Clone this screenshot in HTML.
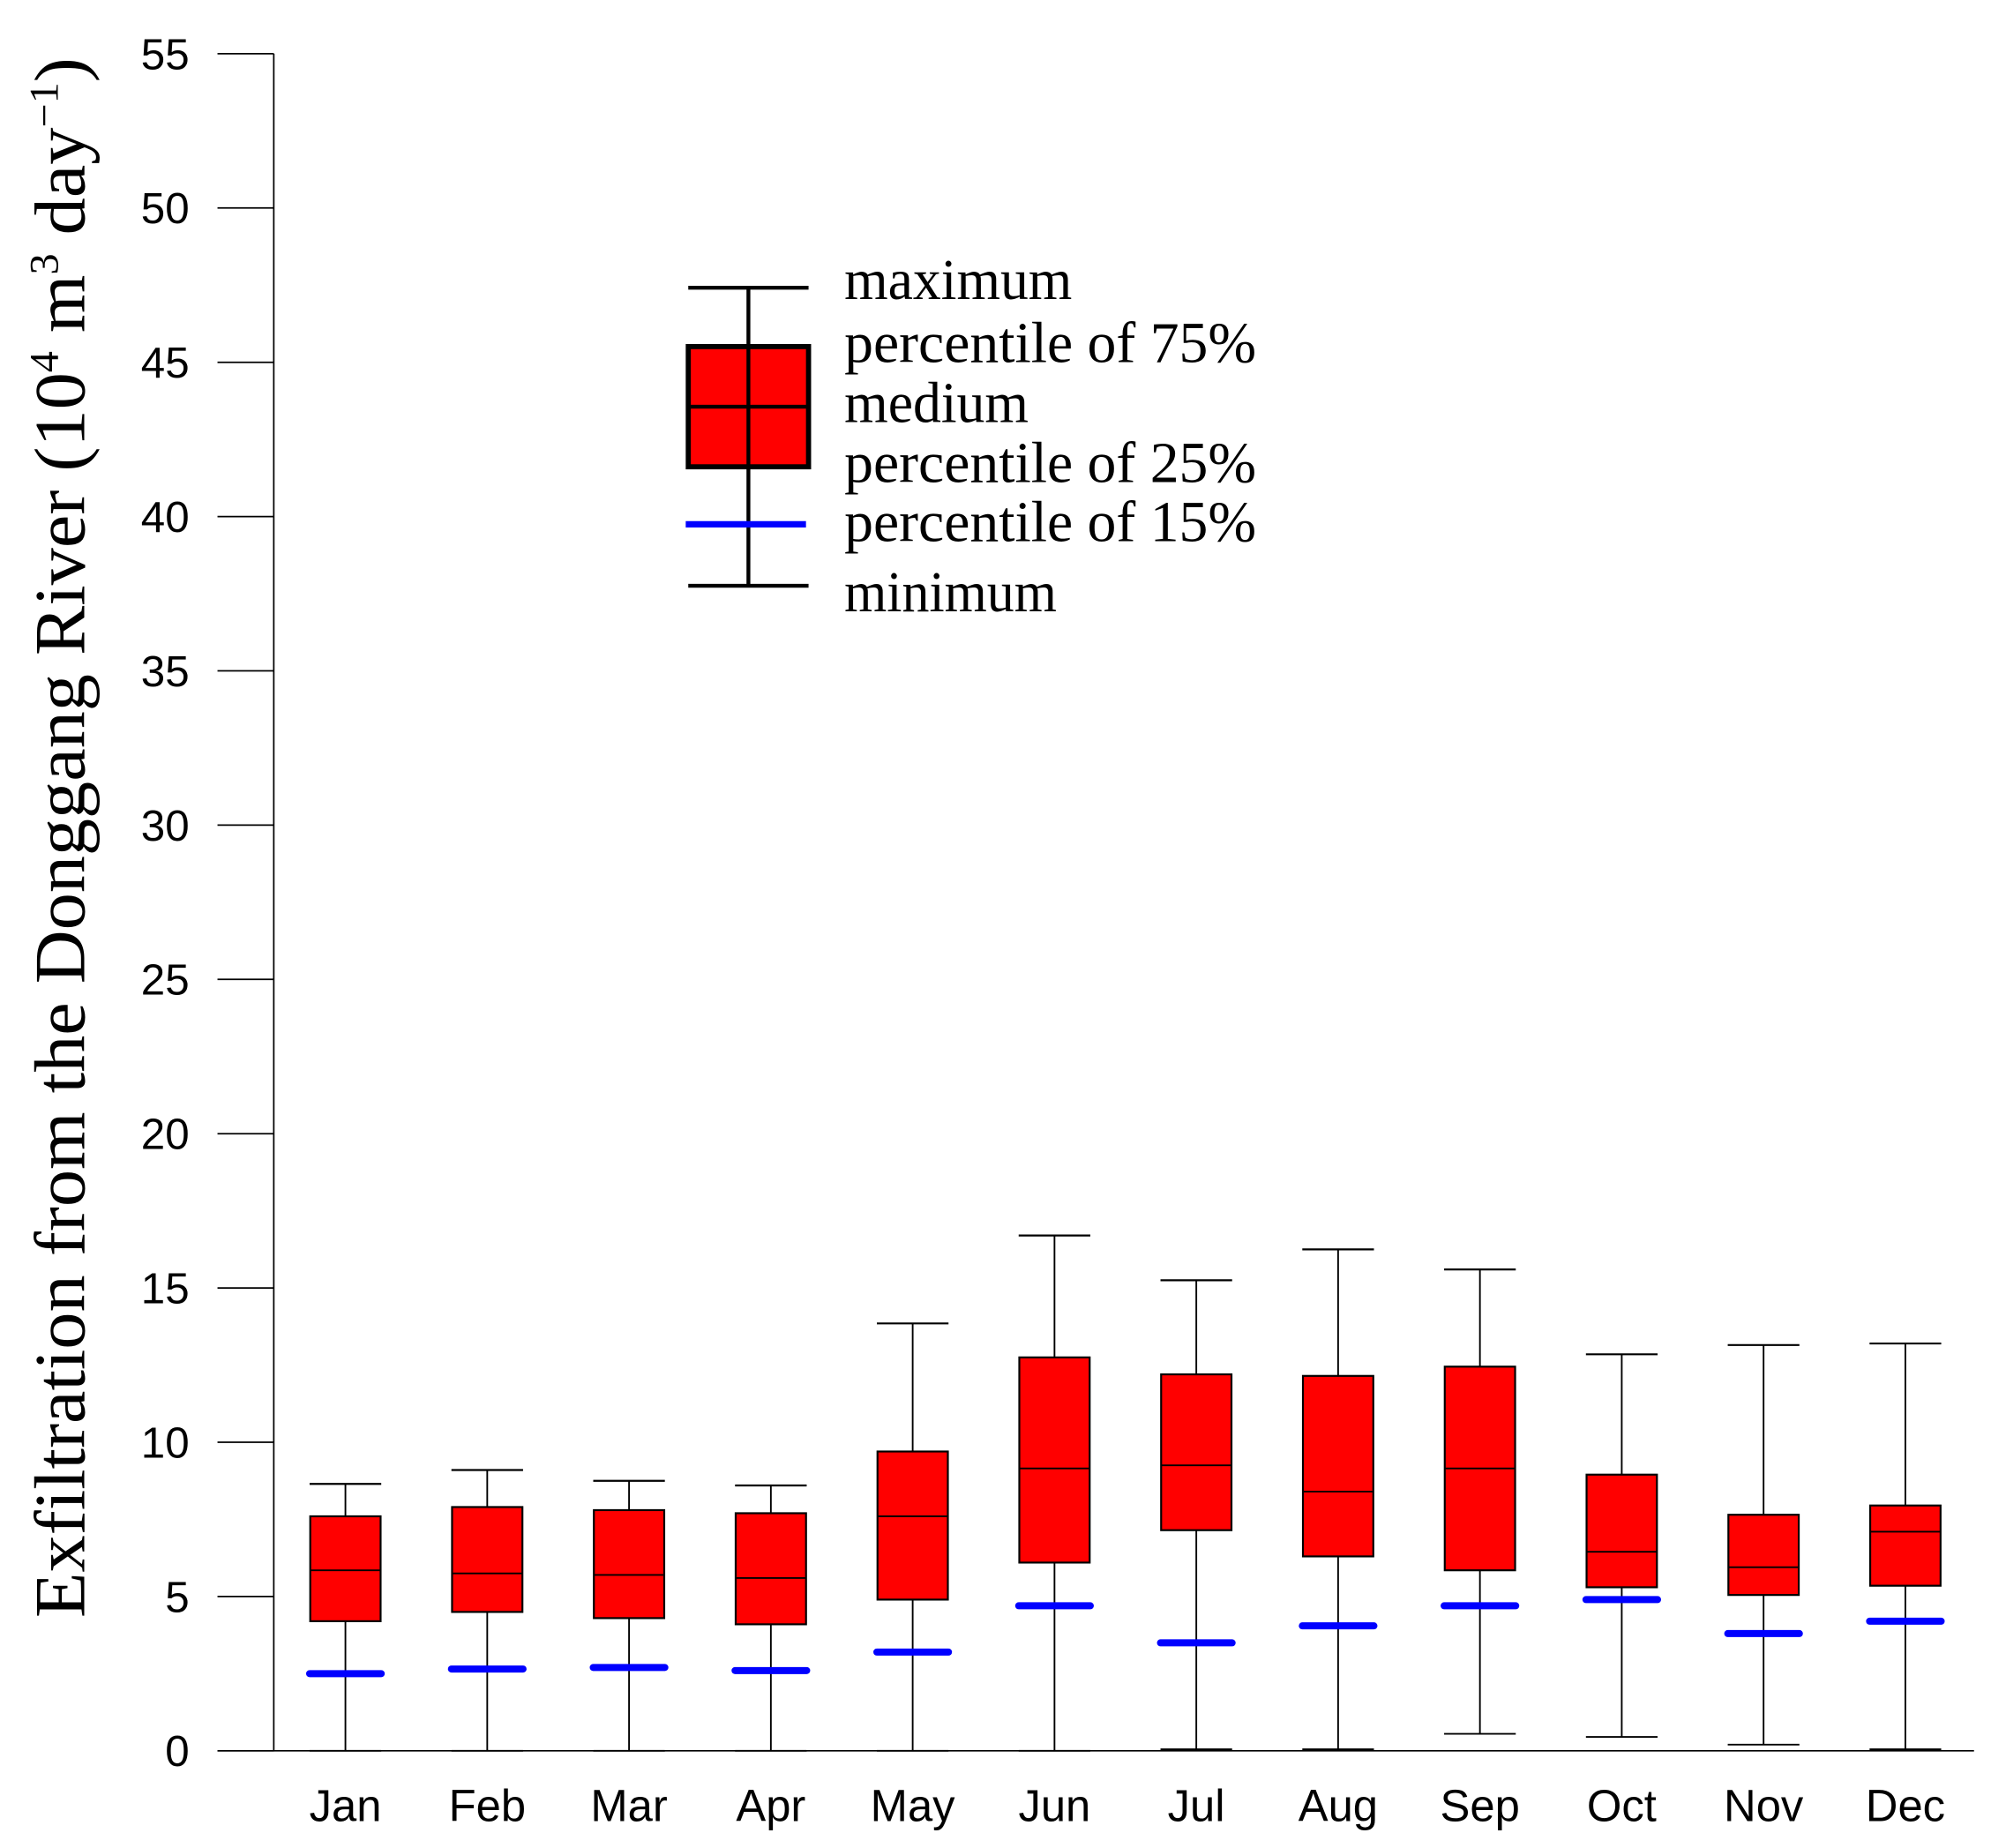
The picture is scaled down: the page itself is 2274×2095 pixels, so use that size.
<!DOCTYPE html>
<html><head><meta charset="utf-8"><style>html,body{margin:0;padding:0;background:#fff}svg{display:block}</style></head>
<body>
<svg id="chart" width="2274" height="2095" viewBox="0 0 1568 1445" preserveAspectRatio="none" xmlns="http://www.w3.org/2000/svg">
<rect width="1568" height="1445" fill="#fff"/>
<g id="axes"></g>
<g id="boxes"></g>
<g font-family="Liberation Serif, serif" font-size="45">
 <line x1="538" y1="225" x2="632" y2="225" stroke="#000" stroke-width="3"/>
 <line x1="585" y1="225" x2="585" y2="458" stroke="#000" stroke-width="3"/>
 <rect x="538" y="271" width="94" height="94" fill="#f00" stroke="#000" stroke-width="4"/>
 <line x1="585" y1="271" x2="585" y2="365" stroke="#000" stroke-width="3"/>
 <line x1="538" y1="318" x2="632" y2="318" stroke="#000" stroke-width="3"/>
 <line x1="536" y1="410" x2="630" y2="410" stroke="#00f" stroke-width="5"/>
 <line x1="538" y1="458" x2="632" y2="458" stroke="#000" stroke-width="3"/>
 <text x="660" y="234" textLength="178" lengthAdjust="spacingAndGlyphs">maximum</text>
 <text x="660" y="283" textLength="322" lengthAdjust="spacingAndGlyphs">percentile of 75%</text>
 <text x="660" y="330" textLength="144" lengthAdjust="spacingAndGlyphs">medium</text>
 <text x="660" y="377" textLength="322" lengthAdjust="spacingAndGlyphs">percentile of 25%</text>
 <text x="660" y="423" textLength="322" lengthAdjust="spacingAndGlyphs">percentile of 15%</text>
 <text x="660" y="478" textLength="166" lengthAdjust="spacingAndGlyphs">minimum</text>
</g>
<text transform="translate(66,655) rotate(-90)" text-anchor="middle" font-family="Liberation Serif, serif" font-size="56" textLength="1220" lengthAdjust="spacingAndGlyphs">Exfiltration  from the Donggang River (10<tspan font-size="32" dy="-21">4</tspan><tspan dy="21"> m</tspan><tspan font-size="32" dy="-21">3</tspan><tspan dy="21"> day</tspan><tspan font-size="32" dy="-21">−1</tspan><tspan dy="21">)</tspan></text>
</svg>
<script>
const months = ["Jan","Feb","Mar","Apr","May","Jun","Jul","Aug","Sep","Oct","Nov","Dec"];
const maxVals = [8.65,9.1,8.75,8.6,13.85,16.7,15.25,16.25,15.6,12.85,13.15,13.2];
const q3Vals = [7.6,7.9,7.8,7.7,9.7,12.75,12.2,12.15,12.45,8.95,7.65,7.95];
const medVals = [5.85,5.75,5.7,5.6,7.6,9.15,9.25,8.4,9.15,6.45,5.95,7.1];
const q1Vals = [4.2,4.5,4.3,4.1,4.9,6.1,7.15,6.3,5.85,5.3,5.05,5.35];
const p15Vals = [2.5,2.65,2.7,2.6,3.2,4.7,3.5,4.05,4.7,4.9,3.8,4.2];
const minVals = [0,0,0,0,0,0,0.05,0.05,0.55,0.45,0.2,0.05];
const yTicks = [0,5,10,15,20,25,30,35,40,45,50,55];

const NS="http://www.w3.org/2000/svg";
const y = v => 1369 - v*(1327/55);
const x = i => 270 + i*110.85;
function mk(parent,tag,attrs){const e=document.createElementNS(NS,tag);for(const k in attrs)e.setAttribute(k,attrs[k]);parent.appendChild(e);return e;}
const axes=document.getElementById('axes'), boxes=document.getElementById('boxes');
let a=mk(axes,'line',{x1:214,y1:y(0),x2:214,y2:y(55),stroke:'#000','stroke-width':1.2});


a=mk(axes,'line',{x1:170,y1:y(0),x2:1543,y2:y(0),stroke:'#000','stroke-width':1.2});


yTicks.forEach(t=>{
  const l=mk(axes,'line',{x1:170,y1:y(t),x2:214,y2:y(t),stroke:'#000','stroke-width':1.2});
  
  
  const tx=mk(axes,'text',{x:148,y:y(t)+12,'text-anchor':'end','font-family':'Liberation Sans, sans-serif','font-size':34});
  tx.textContent=t;
  
  
});
months.forEach((m,i)=>{
  const cx=x(i);
  const g=mk(boxes,'g',{});
  
  
  mk(g,'line',{x1:cx,y1:y(maxVals[i]),x2:cx,y2:y(minVals[i]),stroke:'#000','stroke-width':1.3});
  mk(g,'line',{x1:cx-28,y1:y(maxVals[i]),x2:cx+28,y2:y(maxVals[i]),stroke:'#000','stroke-width':1.5});
  mk(g,'line',{x1:cx-28,y1:y(minVals[i]),x2:cx+28,y2:y(minVals[i]),stroke:'#000','stroke-width':1.3});
  mk(g,'rect',{x:cx-27.5,y:y(q3Vals[i]),width:55,height:y(q1Vals[i])-y(q3Vals[i]),fill:'#f00',stroke:'#000','stroke-width':1.5});
  mk(g,'line',{x1:cx-27.5,y1:y(medVals[i]),x2:cx+27.5,y2:y(medVals[i]),stroke:'#000','stroke-width':1.3});
  const b=mk(g,'line',{x1:cx-28,y1:y(p15Vals[i]),x2:cx+28,y2:y(p15Vals[i]),stroke:'#00f','stroke-width':5.5,'stroke-linecap':'round'});
  
  
  const t=mk(axes,'text',{x:cx,y:1424,'text-anchor':'middle','font-family':'Liberation Sans, sans-serif','font-size':35});
  t.textContent=m;
  
  
});
</script>
</body></html>
